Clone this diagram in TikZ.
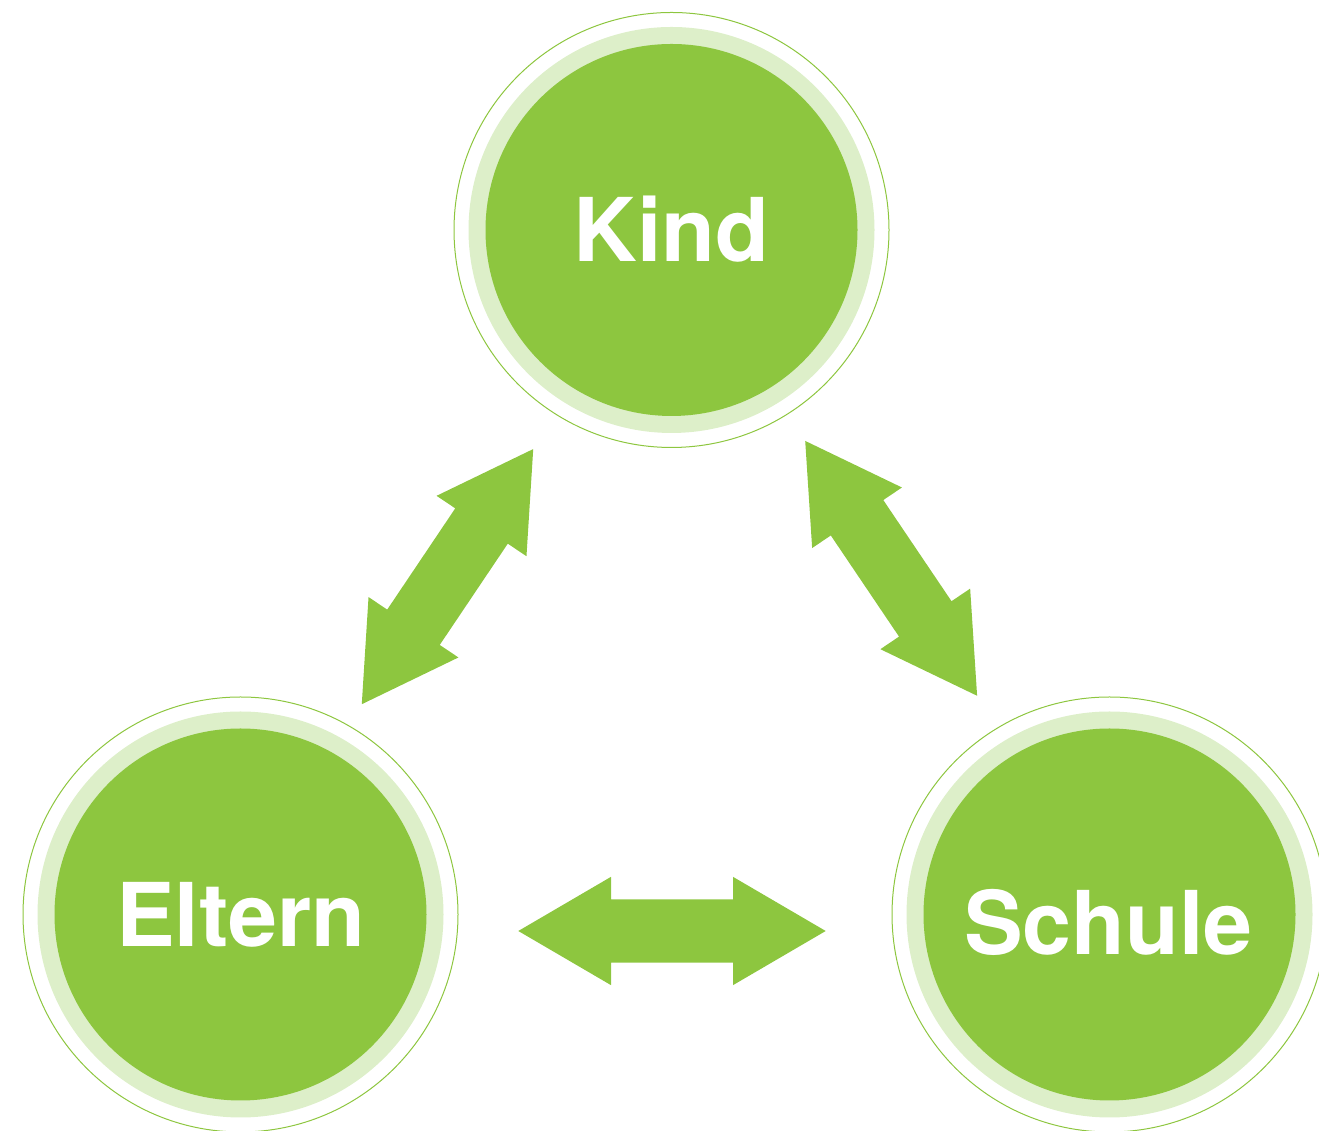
\documentclass[tikz,border=0pt]{standalone}
\usepackage{fontspec}
\setmainfont{TeX Gyre Heros}
\definecolor{kgreen}{HTML}{8DC63F}
\definecolor{klight}{HTML}{DDEFC9}
\tikzset{
  ringnode/.style={circle, inner sep=0pt, minimum size=435pt, draw=kgreen, line width=1pt},
  lbl/.style={text=white, font=\fontsize{88}{88}\selectfont\bfseries, inner sep=0pt, anchor=base},
  dblarrow/.pic={
    \fill[kgreen] (-153.7,0) -- (-61,54.15) -- (-61,31.65) -- (61,31.65) -- (61,54.15)
      -- (153.7,0) -- (61,-54.15) -- (61,-31.65) -- (-61,-31.65) -- (-61,-54.15) -- cycle;
  }
}
\begin{document}
\begin{tikzpicture}[x=1pt,y=1pt]
\useasboundingbox (0,0) rectangle (1319,1131);
\clip (0,0) rectangle (1319,1131);
% circles
\foreach \nm/\cx/\cy in {kind/671.5/901, eltern/240.5/216.5, schule/1109.5/216.5}{
  \node[ringnode] (\nm) at (\cx,\cy) {};
  \fill[klight] (\nm.center) circle (203);
  \fill[kgreen] (\nm.center) circle (186);
}
\node[lbl] (tkind) at (671.5,869) {Kind};
\node[lbl] (teltern) at (240.5,184) {Eltern};
\node[lbl] (tschule) at (1108.5,176) {Schule};
% arrows
\coordinate (ke) at (447.5,554.35);
\coordinate (ks) at (891.15,562.65);
\coordinate (es) at (672,200);
\pic[rotate=56.1] at (ke) {dblarrow};
\pic[rotate=-56.0] at (ks) {dblarrow};
\pic at (es) {dblarrow};
\end{tikzpicture}
\end{document}
